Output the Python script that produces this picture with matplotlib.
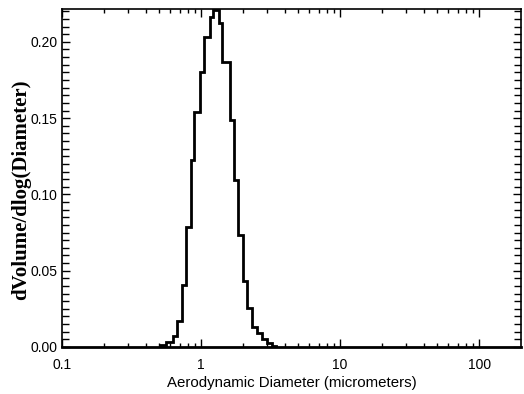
import numpy as np
import matplotlib
matplotlib.use('Agg')
import matplotlib.pyplot as plt
from matplotlib.ticker import FixedLocator, MultipleLocator, NullFormatter

# bin edges (micrometers) and heights
edges = [0.507, 0.560, 0.632, 0.675, 0.726, 0.776, 0.847, 0.895, 0.984,
         1.056, 1.151, 1.226, 1.336, 1.404, 1.603, 1.713, 1.855, 2.015,
         2.154, 2.316, 2.516, 2.734, 2.970, 3.226, 3.464]
dvol = [0.0010, 0.0030, 0.0072, 0.0171, 0.0407, 0.0787, 0.1227, 0.1538,
        0.1804, 0.2034, 0.2165, 0.2212, 0.2122, 0.1870, 0.1489, 0.1096,
        0.0731, 0.0433, 0.0253, 0.0133, 0.0090, 0.0051, 0.0024, 0.0007]

x_ticks = [0.1, 1, 10, 100]
x_labels = ['0.1', '1', '10', '100']
y_ticks = [0.00, 0.05, 0.10, 0.15, 0.20]

fig = plt.figure(figsize=(5.24, 3.94), dpi=100)
ax = fig.add_axes([0.1183, 0.1193, 0.8760, 0.8577])

ax.stairs(dvol, edges, baseline=0, color='black', linewidth=2.0)

ax.set_xscale('log')
ax.set_xlim(0.1, 200)
ax.set_ylim(0, 0.2215)

ax.xaxis.set_major_locator(FixedLocator(x_ticks))
ax.set_xticklabels(x_labels)
minor_x = [m * 10.0 ** d for d in range(-1, 3) for m in range(2, 10) if m * 10.0 ** d < 200]
ax.xaxis.set_minor_locator(FixedLocator(minor_x))
ax.xaxis.set_minor_formatter(NullFormatter())

ax.yaxis.set_major_locator(FixedLocator(y_ticks))
ax.set_yticklabels(['%.2f' % v for v in y_ticks])
ax.yaxis.set_minor_locator(MultipleLocator(0.005))

ax.tick_params(which='both', direction='in', top=True, right=True, width=1.0,
               color='black')
ax.tick_params(which='major', length=6, labelsize=10)
ax.tick_params(which='minor', length=3)
ax.tick_params(axis='x', which='major', pad=8)
ax.tick_params(axis='y', which='major', pad=3.5)

# longer tick halfway between the labelled y ticks
for t in ax.yaxis.get_minor_ticks():
    loc = t.get_loc()
    if abs(loc / 0.025 - round(loc / 0.025)) < 1e-6:
        t.tick1line.set_markersize(5)
        t.tick2line.set_markersize(5)

for lab in ax.get_xticklabels() + ax.get_yticklabels():
    lab.set_fontfamily('Liberation Sans')

for s in ax.spines.values():
    s.set_linewidth(1.2)
ax.spines['bottom'].set_linewidth(2.0)

ax.set_xlabel('Aerodynamic Diameter (micrometers)', fontsize=10.8,
              family='Liberation Sans', labelpad=3)
# y title sits a bit below the axes centre in the original
fig.text(21 / 524, 1 - 190 / 394, 'dVolume/dlog(Diameter)', rotation=90,
         ha='center', va='center', fontsize=15, family='Liberation Serif',
         fontweight='bold')

fig.savefig('out.png', dpi=100)
